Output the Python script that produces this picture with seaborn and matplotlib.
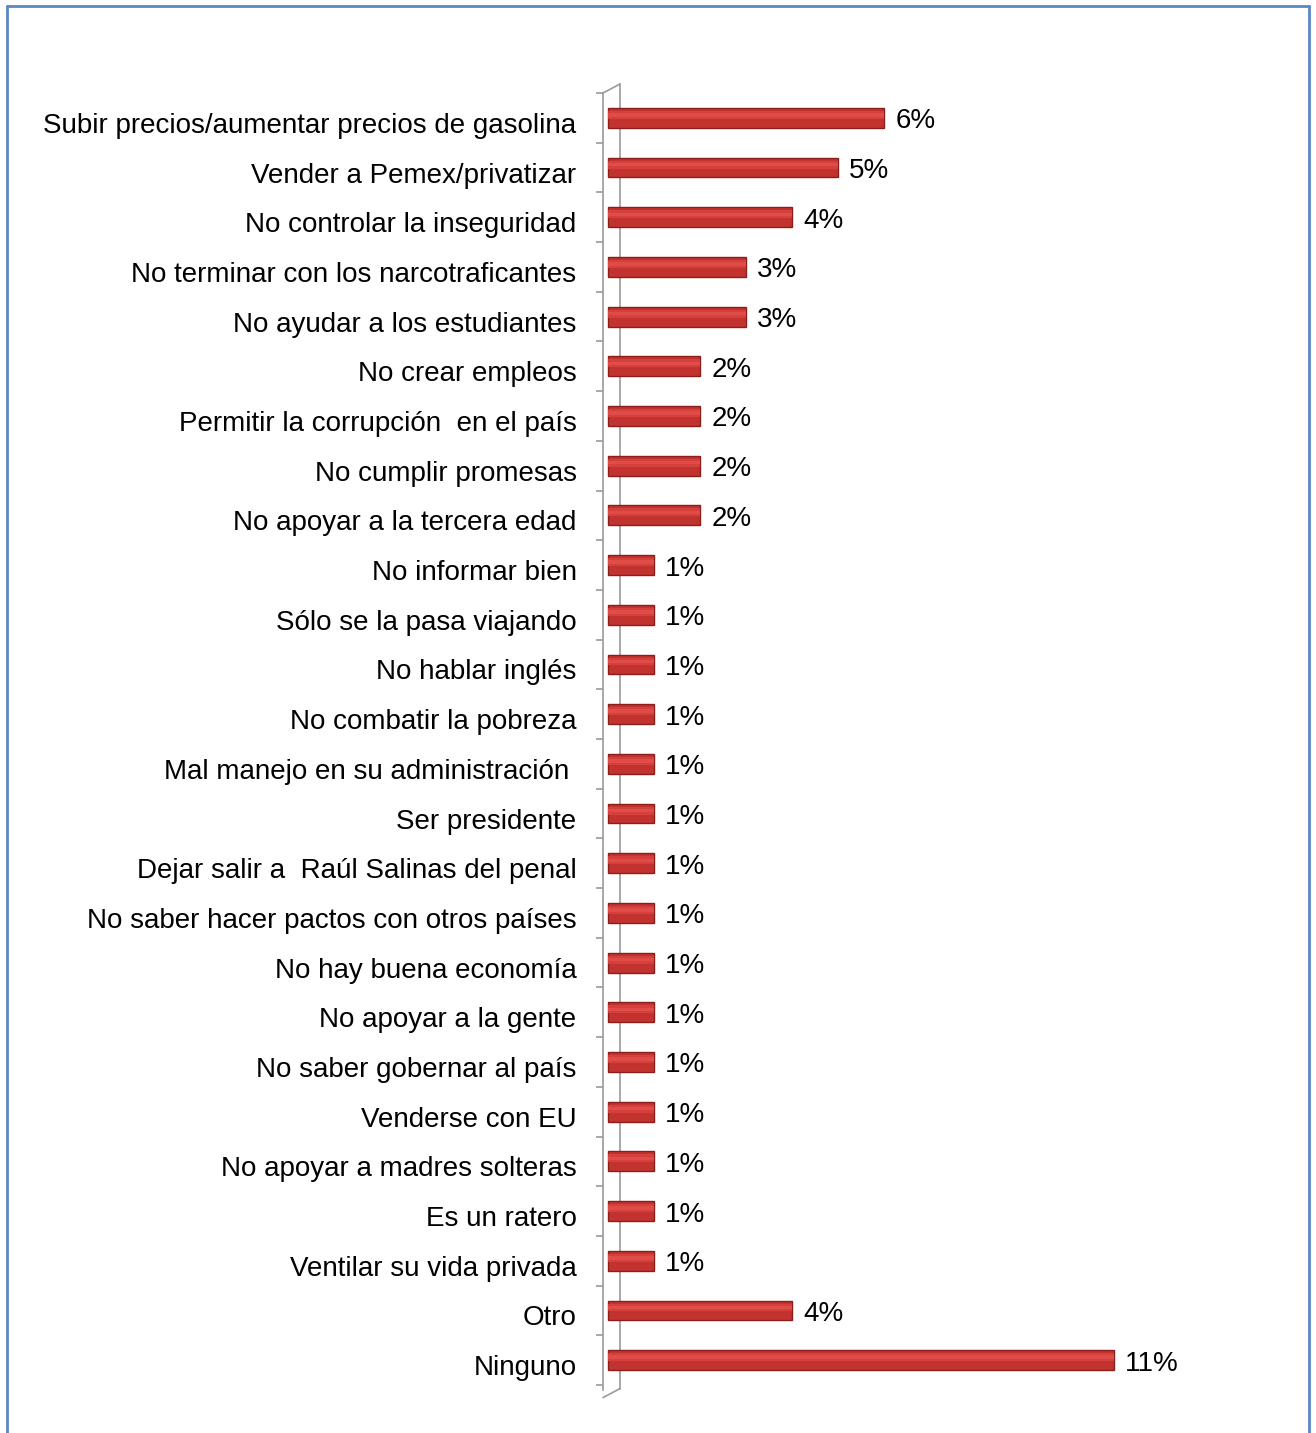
import numpy as np
import pandas as pd
import matplotlib
matplotlib.use("Agg")
import matplotlib.pyplot as plt
import matplotlib.transforms as mtransforms
from matplotlib.lines import Line2D
import seaborn as sns

# categories and values (percent)
categories = [
    "Subir precios/aumentar precios de gasolina",
    "Vender a Pemex/privatizar",
    "No controlar la inseguridad",
    "No terminar con los narcotraficantes",
    "No ayudar a los estudiantes",
    "No crear empleos",
    "Permitir la corrupción  en el país",
    "No cumplir promesas",
    "No apoyar a la tercera edad",
    "No informar bien",
    "Sólo se la pasa viajando",
    "No hablar inglés",
    "No combatir la pobreza",
    "Mal manejo en su administración ",
    "Ser presidente",
    "Dejar salir a  Raúl Salinas del penal",
    "No saber hacer pactos con otros países",
    "No hay buena economía",
    "No apoyar a la gente",
    "No saber gobernar al país",
    "Venderse con EU",
    "No apoyar a madres solteras",
    "Es un ratero",
    "Ventilar su vida privada",
    "Otro",
    "Ninguno",
]
values = [6, 5, 4, 3, 3, 2, 2, 2, 2, 1, 1, 1, 1, 1, 1, 1, 1, 1, 1, 1, 1, 1, 1, 1, 4, 11]

df = pd.DataFrame({"categoria": categories, "valor": values})

sns.set_theme(style="white")
plt.rcParams['font.family'] = ['Liberation Sans', 'DejaVu Sans']

W, H = 1316, 1433
fig = plt.figure(figsize=(W / 100, H / 100), dpi=100)

# axes placement in pixels
left_px, right_px = 603, 1160
top_px, bottom_px = 93, 1385
ax = fig.add_axes([left_px / W, 1 - bottom_px / H,
                   (right_px - left_px) / W, (bottom_px - top_px) / H])

bar_color = "#C23330"
sns.barplot(data=df, x="valor", y="categoria", orient="h", color=bar_color,
            width=0.4, edgecolor="#8A1E1B", linewidth=1.0, saturation=1, ax=ax, zorder=3)

# soft highlight on the bars for a cylindrical look
ypos = np.arange(len(values))
ax.barh(ypos - 0.06, values, height=0.16, color="#D8423E", linewidth=0, zorder=4, alpha=0.9)
ax.barh(ypos - 0.06, values, height=0.07, color="#E4504B", linewidth=0, zorder=4, alpha=0.8)

ax.set_xlim(-0.11, 12.0)
ax.set_ylim(len(values) - 0.5, -0.5)

# value labels
texts = ax.bar_label(ax.containers[0], labels=[f"{v}%" for v in values],
                     padding=8, fontsize=20, color="black")
for t in texts:
    t.xyann = (t.xyann[0], -2.5)

ax.set_xlabel("")
ax.set_ylabel("")
ax.set_xticks([])
for s in ["top", "right", "bottom"]:
    ax.spines[s].set_visible(False)
ax.spines["left"].set_color("#9A9A9A")
ax.spines["left"].set_linewidth(1.2)

# category labels; ticks drawn between categories
ax.tick_params(axis="y", which="major", length=0, pad=19, labelsize=20, labelcolor="black")
ax.set_yticks(np.arange(-0.5, len(values), 1.0), minor=True)
ax.tick_params(axis="y", which="minor", length=5, width=1.2, color="#9A9A9A", left=True)
offset = mtransforms.ScaledTranslation(0, -5 / 100, fig.dpi_scale_trans)
for lab in ax.get_yticklabels():
    lab.set_transform(lab.get_transform() + offset)

# back wall of the 3D axis
wx = 17 / (right_px - left_px)
dy = 9 / (bottom_px - top_px)
wall = dict(color="#9A9A9A", linewidth=1.2, transform=ax.transAxes, clip_on=False, zorder=1)
ax.add_line(Line2D([wx, wx], [-dy * 0.4, 1 + dy], **wall))
ax.add_line(Line2D([0, wx], [1, 1 + dy], **wall))
ax.add_line(Line2D([0, wx], [-dy * 1.4, -dy * 0.4], **wall))
ax.spines["left"].set_bounds(len(values) - 0.5 + 0.1, -0.5)

# blue frame around the chart
frame = dict(color="#5B87C5", linewidth=2.0, transform=fig.transFigure)
fig.add_artist(Line2D([7 / W, 7 / W], [0, 1 - 6 / H], **frame))
fig.add_artist(Line2D([7 / W, 1309 / W], [1 - 6 / H, 1 - 6 / H], **frame))
fig.add_artist(Line2D([1309 / W, 1309 / W], [0, 1 - 6 / H], **frame))

fig.savefig("out.png", dpi=100, facecolor="white")
